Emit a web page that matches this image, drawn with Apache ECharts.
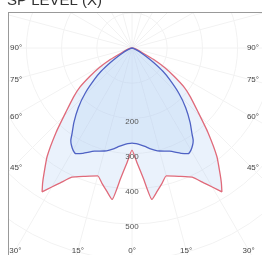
<!DOCTYPE html>
<html>
<head>
<meta charset="utf-8">
<script src="https://cdn.jsdelivr.net/npm/echarts@6/dist/echarts.min.js"></script>
<style>
    html, body {margin: 0; padding: 0; background: #fff;}
    #chart {width: 262px; height: 255px;}
</style>
</head>
<body>
<div id="chart"></div>
<script>
// angle from nadir (deg), curves mirrored left / right
var angles = [0, 2.5, 5, 7.5, 10, 12.5, 15, 20, 25, 28, 30, 32, 33.5, 35, 38, 42, 46, 50, 53, 56, 59, 62, 65, 75, 90];
var redValues = [290, 326, 372, 434, 413, 394, 376, 388, 405, 434, 456, 482, 460, 436, 392, 322, 260, 217, 186, 145, 108, 70, 35, 10, 0];
var blueValues = [270, 272, 276, 282, 290, 297, 303, 312, 330, 340, 335, 325, 315, 297, 268, 228, 185, 140, 110, 75, 48, 30, 18, 4, 0];
var radiusTicks = [200, 300, 400, 500];
var angleTicks = [90, 75, 60, 45, 30, 15, 0];
var title = 'SP LEVEL (X)';

var CX = 132, CY = 48, PX = 0.352, RMAX = 800;
var BOX_L = 8, BOX_T = 12;

/**
 * 对称展开: -90 .. 0 .. 90
 */
function mirror(values) {
    var out = [];
    for (var i = angles.length - 1; i >= 0; i--) {
        out.push([values[i], -angles[i]]);
    }
    for (var j = 1; j < angles.length; j++) {
        out.push([values[j], angles[j]]);
    }
    return out;
}

var labelFont = '8px "Liberation Sans", Arial, sans-serif';
var graphics = [
    {type: 'rect', shape: {x: 0, y: 0, width: BOX_L, height: 255}, style: {fill: '#fff'}, z: 100},
    {type: 'rect', shape: {x: 0, y: 0, width: 262, height: BOX_T}, style: {fill: '#fff'}, z: 100},
    {type: 'line', shape: {x1: BOX_L + 0.5, y1: BOX_T, x2: BOX_L + 0.5, y2: 255}, style: {stroke: '#999', lineWidth: 1}, z: 101},
    {type: 'line', shape: {x1: BOX_L, y1: BOX_T + 0.5, x2: 262, y2: BOX_T + 0.5}, style: {stroke: '#999', lineWidth: 1}, z: 101},
    // 标题上半截在画面外
    {type: 'text', x: 7, y: 8, z: 102, style: {text: title, font: '15px "Liberation Sans", Arial, sans-serif', fill: '#333', verticalAlign: 'bottom'}}
];
// 半径刻度
for (var i = 0; i < radiusTicks.length; i++) {
    graphics.push({type: 'text', x: CX, y: CY + radiusTicks[i] * PX + 3, z: 102,
        style: {text: String(radiusTicks[i]), font: labelFont, fill: '#555', align: 'center', verticalAlign: 'middle'}});
}
// 角度刻度, 画在边框上
for (var k = 0; k < angleTicks.length; k++) {
    var a = angleTicks[k], rad = a * Math.PI / 180;
    if (a >= 45) {
        var y = a === 90 ? CY : CY + 120 / Math.tan(rad);
        graphics.push({type: 'text', x: 10, y: y, z: 102, style: {text: a + '°', font: labelFont, fill: '#444', verticalAlign: 'middle'}});
        graphics.push({type: 'text', x: 259, y: y, z: 102, style: {text: a + '°', font: labelFont, fill: '#444', align: 'right', verticalAlign: 'middle'}});
    } else {
        var dx = 202 * Math.tan(rad);
        graphics.push({type: 'text', x: CX - dx, y: 251, z: 102, style: {text: a + '°', font: labelFont, fill: '#444', align: 'center', verticalAlign: 'middle'}});
        if (a > 0) {
            graphics.push({type: 'text', x: CX + dx, y: 251, z: 102, style: {text: a + '°', font: labelFont, fill: '#444', align: 'center', verticalAlign: 'middle'}});
        }
    }
}

var myChart = echarts.init(document.getElementById('chart'), null, {renderer: 'canvas'});
var option = {
    animation: false,
    polar: {center: [CX, CY], radius: [0, RMAX * PX]},
    angleAxis: {
        type: 'value', min: -180, max: 180, interval: 15, startAngle: 90, clockwise: true,
        axisLine: {show: false}, axisTick: {show: false}, axisLabel: {show: false},
        splitLine: {show: true, lineStyle: {color: '#f2f2f2', width: 1}}
    },
    radiusAxis: {
        type: 'value', min: 0, max: RMAX, interval: 100,
        axisLine: {show: false}, axisTick: {show: false}, axisLabel: {show: false},
        splitLine: {show: true, lineStyle: {color: '#f2f2f2', width: 1}}
    },
    series: [
        {
            type: 'line', coordinateSystem: 'polar', data: mirror(redValues),
            showSymbol: false, smooth: 0.15, clip: false,
            lineStyle: {color: '#e06a7a', width: 1.3},
            areaStyle: {color: 'rgba(160,195,240,0.32)'}
        },
        {
            type: 'line', coordinateSystem: 'polar', data: mirror(blueValues),
            showSymbol: false, smooth: 0.2, clip: false,
            lineStyle: {color: '#4f62c4', width: 1.3},
            areaStyle: {color: 'rgba(160,195,240,0.32)'}
        }
    ],
    graphic: graphics
};
myChart.setOption(option);
</script>
</body>
</html>
